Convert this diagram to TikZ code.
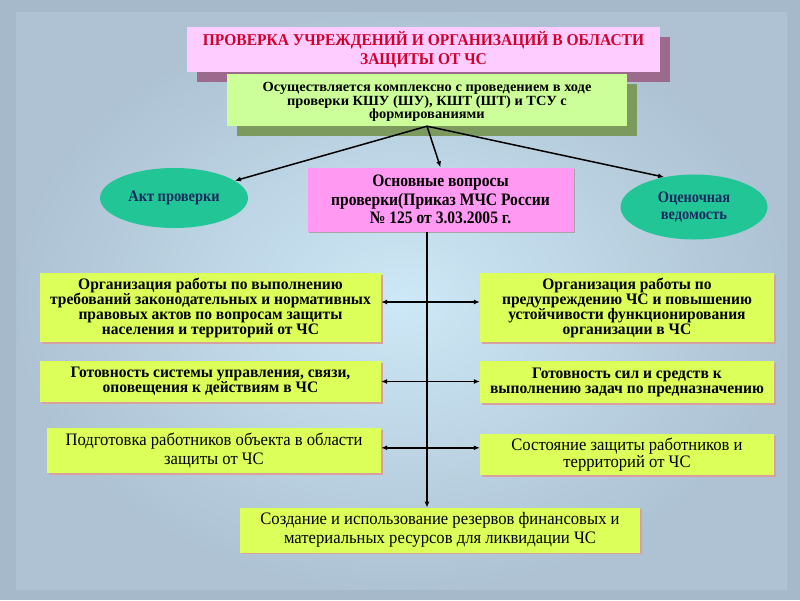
\documentclass[tikz,border=0pt]{standalone}
\usepackage{fontspec}
\setmainfont{Liberation Serif}
\newfontfamily\famBold{Liberation Serif}[FakeStretch=0.97]
\newfontfamily\famReg{Liberation Serif}[FakeStretch=0.95]
\newfontfamily\famTitle{Liberation Serif}[FakeStretch=0.94]
\newfontfamily\famGreen{Liberation Serif}[FakeStretch=1.03]
\newfontfamily\famCenter{Liberation Serif}[FakeStretch=0.89]
\newfontfamily\famEll{Liberation Serif}[FakeStretch=0.9]
\usetikzlibrary{shapes.geometric,arrows.meta,shadows}
\definecolor{bgout}{HTML}{A6B9CA}
\definecolor{bgin}{HTML}{CDE8F6}
\definecolor{limef}{HTML}{DDFF5A}
\definecolor{greenf}{HTML}{CCFF99}
\definecolor{greensh}{HTML}{7C9A5E}
\definecolor{titlef}{HTML}{FFCCFF}
\definecolor{titlesh}{HTML}{9C6A8C}
\definecolor{centerf}{HTML}{FF99F2}
\definecolor{tealf}{HTML}{22C696}
\definecolor{navy}{HTML}{1A2A5E}
\definecolor{titlered}{HTML}{D0002E}
\definecolor{pinksh}{HTML}{D9A0A0}
\tikzset{
  box/.style={fill=limef, align=center, inner sep=1pt,
    drop shadow={shadow xshift=1.5pt, shadow yshift=-1.5pt, fill=pinksh, opacity=1}},
  boldtxt/.style={font=\famBold\bfseries\fontsize{16}{15}\selectfont},
  regtxt/.style={font=\famReg\fontsize{17.5}{19}\selectfont},
  ell/.style={ellipse, fill=tealf, text=navy, align=center, inner sep=0pt,
    font=\famEll\bfseries\fontsize{16}{17}\selectfont},
  arr/.style={line width=1.5pt, -{Latex[length=6pt,width=5pt]}},
  darr/.style={line width=1.5pt, {Latex[length=6pt,width=5pt]}-{Latex[length=6pt,width=5pt]}}
}
\begin{document}
\begin{tikzpicture}[x=1pt,y=-1pt]
\useasboundingbox (0,0) rectangle (800,600);
\fill[bgout] (0,0) rectangle (800,600);
\shade[inner color=bgin, outer color=bgout!80!bgin] (16,12) rectangle (787,589);

% title with shadow
\fill[titlesh] (197,37) rectangle (670,82);
\node[fill=titlef, minimum width=473pt, minimum height=45pt, inner sep=0pt, align=center,
  text=titlered, font=\famTitle\bfseries\fontsize{16.5}{19}\selectfont] (title) at (423.5,49.5)
  {ПРОВЕРКА УЧРЕЖДЕНИЙ И ОРГАНИЗАЦИЙ В ОБЛАСТИ\\ЗАЩИТЫ ОТ ЧС};

% green box with shadow
\fill[greensh] (237,84) rectangle (637,136);
\node[fill=greenf, minimum width=400pt, minimum height=52pt, inner sep=0pt] (green) at (427,100) {};
\node[align=center, inner sep=0pt, font=\famGreen\bfseries\fontsize{14}{13.8}\selectfont] (greentxt) at (427,102)
  {Осуществляется комплексно с проведением в ходе\\проверки КШУ (ШУ), КШТ (ШТ) и ТСУ с\\формированиями};

% ellipses
\node[ell, minimum width=148pt, minimum height=60pt] (akt) at (174,198) {Акт проверки};
\node[ell, minimum width=147pt, minimum height=65pt] (oc) at (694,207) {Оценочная\\ведомость};

% center box
\node[fill=centerf, minimum width=266pt, minimum height=64pt, inner sep=0pt, align=center,
  drop shadow={shadow xshift=1.5pt, shadow yshift=-1.5pt, fill=black!35, opacity=1},
  font=\famCenter\bfseries\fontsize{17.5}{18.5}\selectfont] (center) at (440.5,199.5)
  {Основные вопросы\\проверки(Приказ МЧС России\\№ 125 от 3.03.2005 г.};

% left boxes
\node[box, boldtxt, minimum width=341pt, minimum height=69pt] (L1) at (210.5,307.5)
  {Организация работы по выполнению\\требований законодательных и нормативных\\правовых актов по вопросам защиты\\населения и территорий от ЧС};
\node[box, boldtxt, minimum width=341pt, minimum height=41pt] (L2) at (210.5,381.5)
  {Готовность системы управления, связи,\\оповещения к действиям в ЧС};
\node[box, regtxt, minimum width=334pt, minimum height=45pt] (L3) at (214,450.8)
  {Подготовка работников объекта в области\\защиты от ЧС};

% right boxes
\node[box, boldtxt, minimum width=294pt, minimum height=69pt] (R1) at (627,307.5)
  {Организация работы по\\предупреждению ЧС и повышению\\устойчивости функционирования\\организации в ЧС};
\node[box, boldtxt, minimum width=294pt, minimum height=42pt] (R2) at (627,382)
  {Готовность сил и средств к\\выполнению задач по предназначению};
\node[box, minimum width=294pt, minimum height=41pt, align=center, font=\famReg\fontsize{17.5}{15}\selectfont] (R3) at (627,454.5)
  {Состояние защиты работников и\\территорий от ЧС};

% bottom box
\node[box, regtxt, minimum width=400pt, minimum height=45pt] (B) at (440,530.3)
  {Создание и использование резервов финансовых и\\материальных ресурсов для ликвидации ЧС};

% connectors
\draw[arr] (green.south) -- (akt);
\draw[arr] (green.south) -- (center.north);
\draw[arr] (green.south) -- (oc.135);
\draw[arr] (center.south -| green.south) -- (B.north -| green.south);
\draw[darr] ([yshift=5.5pt]L1.east) -- ([yshift=5.5pt]R1.west);
\draw[darr] (L2.east) -- (L2.east -| R2.west);
\draw[darr] ([yshift=3pt]L3.east) -- ([yshift=3pt]L3.east -| R3.west);
\end{tikzpicture}
\end{document}
